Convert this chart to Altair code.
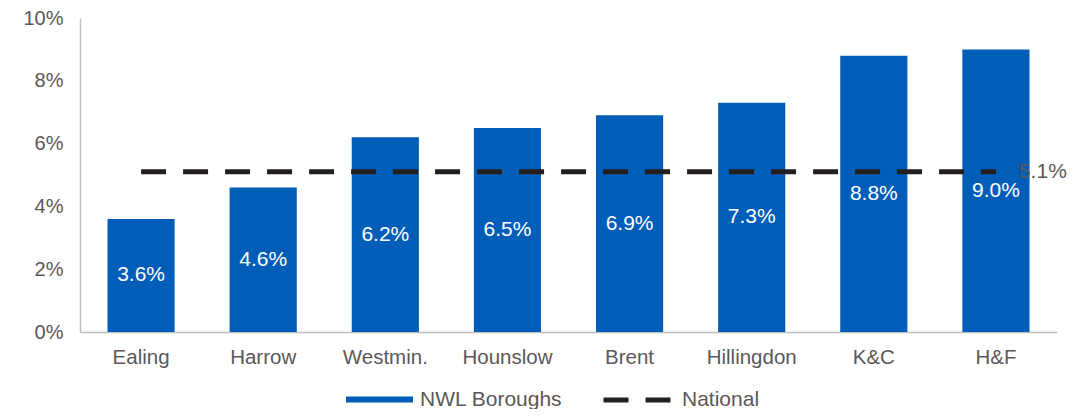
import altair as alt
import pandas as pd

boroughs = ["Ealing", "Harrow", "Westmin.", "Hounslow", "Brent", "Hillingdon", "K&C", "H&F"]
values = [3.6, 4.6, 6.2, 6.5, 6.9, 7.3, 8.8, 9.0]
national = 5.1
y_ticks = [0, 2, 4, 6, 8, 10]

BLUE = "#005EB8"
TXT = "#5d5758"
FONT = "Liberation Sans"

df = pd.DataFrame({
    "borough": boroughs,
    "value": [v / 100 for v in values],
    "mid": [v / 200 for v in values],
    "label": [f"{v:.1f}%" for v in values],
    "series": ["NWL Boroughs"] * len(boroughs),
    "national": [national / 100] * len(boroughs),
    "nat_series": ["National"] * len(boroughs),
    "nat_label": [f"{national:.1f}%"] * len(boroughs),
})

xenc = alt.X(
    "borough:N", sort=boroughs,
    scale=alt.Scale(paddingInner=0.45, paddingOuter=0.225),
    axis=alt.Axis(title=None, labelAngle=0, ticks=False, domainColor="#bfbfbf",
                  domainWidth=1.5, labelFontSize=20.5, labelColor=TXT, labelFont=FONT,
                  labelPadding=15),
)
yscale = alt.Scale(domain=[0, 0.1], nice=False)

bars = alt.Chart(df).mark_bar().encode(
    x=xenc,
    y=alt.Y("value:Q", scale=yscale,
            axis=alt.Axis(title=None, format=".0%", values=[t / 100 for t in y_ticks],
                          grid=False, ticks=False, domainColor="#bfbfbf", domainWidth=1.5,
                          labelFontSize=20, labelColor=TXT, labelFont=FONT, labelPadding=17)),
    color=alt.Color("series:N", scale=alt.Scale(range=[BLUE]),
                    legend=alt.Legend(title=None, orient="none", legendX=266, legendY=348,
                                      symbolType="M-1,-0.09H1V0.09H-1Z", symbolSize=4489,
                                      symbolStrokeWidth=0, labelFontSize=21, labelColor=TXT,
                                      labelFont=FONT, labelOffset=7, padding=0)),
)

bar_labels = alt.Chart(df).mark_text(color="white", fontSize=21, font=FONT).encode(
    x=alt.X("borough:N", sort=boroughs),
    y=alt.Y("mid:Q", scale=yscale),
    text="label:N",
)

line = alt.Chart(df).mark_line(color="#231f20", strokeWidth=5).encode(
    x=alt.X("borough:N", sort=boroughs),
    y=alt.Y("national:Q", scale=yscale),
    strokeDash=alt.StrokeDash("nat_series:N", scale=alt.Scale(range=[[25, 17]]),
                              legend=alt.Legend(title=None, orient="none", legendX=521, legendY=345,
                                                symbolType="stroke", symbolSize=4761,
                                                symbolStrokeWidth=5, symbolStrokeColor="#231f20",
                                                labelFontSize=21, labelColor=TXT, labelFont=FONT,
                                                labelOffset=7, padding=0)),
)

nat_text = alt.Chart(df).transform_filter(alt.datum.borough == "H&F").mark_text(
    align="left", dx=23, color=TXT, fontSize=21, font=FONT
).encode(
    x=alt.X("borough:N", sort=boroughs),
    y=alt.Y("national:Q", scale=yscale),
    text="nat_label:N",
)

chart = alt.layer(bars, bar_labels, line, nat_text).properties(
    width=977, height=314,
    autosize=alt.AutoSizeParams(type="none"),
    padding={"left": 72, "top": 10, "right": 24, "bottom": 77},
).configure_view(stroke=None)

chart.save("out.html", embed_options={"renderer": "svg", "actions": False})
